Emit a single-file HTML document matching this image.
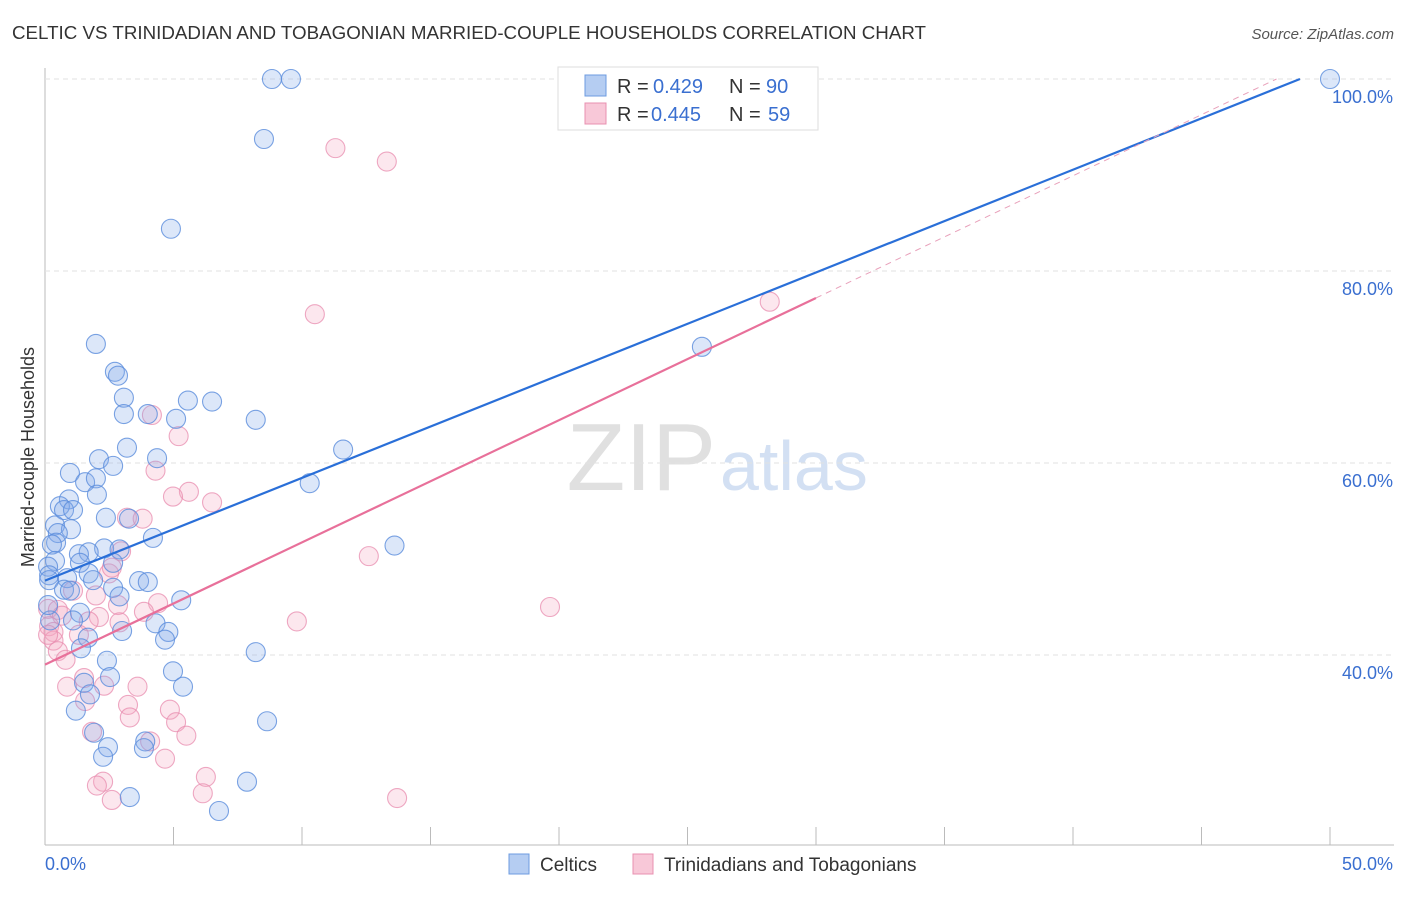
<!DOCTYPE html>
<html><head><meta charset="utf-8"><style>
body{margin:0;background:#fff;font-family:"Liberation Sans",sans-serif;}
svg text{font-family:"Liberation Sans",sans-serif;}
</style></head><body>
<svg id="c" width="1406" height="892">
<text x="12" y="39" font-size="18" fill="#333" textLength="914" lengthAdjust="spacingAndGlyphs">CELTIC VS TRINIDADIAN AND TOBAGONIAN MARRIED-COUPLE HOUSEHOLDS CORRELATION CHART</text>
<text x="1394" y="39" font-size="15" fill="#555" text-anchor="end" font-style="italic">Source: ZipAtlas.com</text>
<text x="34" y="457" font-size="18" fill="#333" text-anchor="middle" transform="rotate(-90 34 457)">Married-couple Households</text>
<text x="716" y="490" font-size="96" fill="#e0e0e0" text-anchor="end" font-family="Liberation Serif">ZIP</text>
<text x="720" y="490" font-size="70" fill="#d3e0f3">atlas</text>
<g id="grid"></g><g id="pts"></g><g id="lines"></g>
<g>
<rect x="558" y="67" width="260" height="63" fill="#fff" stroke="#ddd"/>
<rect x="585" y="75" width="21" height="21" fill="#b5cdf2" stroke="#6d9be0"/>
<text x="617" y="93" font-size="20" fill="#333">R =</text>
<text x="653" y="93" font-size="20" fill="#3a6fd0">0.429</text>
<text x="729" y="93" font-size="20" fill="#333">N =</text>
<text x="766" y="93" font-size="20" fill="#3a6fd0">90</text>
<rect x="585" y="103" width="21" height="21" fill="#f8c8d8" stroke="#e890b0"/>
<text x="617" y="121" font-size="20" fill="#333">R =</text>
<text x="651" y="121" font-size="20" fill="#3a6fd0">0.445</text>
<text x="729" y="121" font-size="20" fill="#333">N =</text>
<text x="768" y="121" font-size="20" fill="#3a6fd0">59</text>
</g>
<g>
<rect x="509" y="854" width="20" height="20" fill="#b5cdf2" stroke="#6d9be0"/>
<text x="540" y="871" font-size="19" fill="#333">Celtics</text>
<rect x="633" y="854" width="20" height="20" fill="#f8c8d8" stroke="#e890b0"/>
<text x="664" y="871" font-size="19" fill="#333">Trinidadians and Tobagonians</text>
</g>
</svg>
<script>
const xTicks=[0,5,10,15,20,25,30,35,40,45,50];
const yTicks=[40,60,80,100];
const celticsX=[8.83,9.57,50,8.52,4.9,1.98,25.56,2.72,2.84,3.07,5.56,6.5,3.07,4.0,5.1,8.2,3.19,11.6,4.36,2.1,2.65,0.97,1.56,1.98,10.3,2.02,0.93,0.58,0.74,1.09,2.37,3.27,0.39,1.01,0.5,4.2,0.43,0.27,13.6,2.3,2.9,1.7,1.32,0.39,1.36,2.65,0.12,0.16,0.16,1.7,0.86,1.87,3.66,4.0,2.65,0.74,0.97,2.9,5.3,1.36,1.09,4.3,3.0,4.8,1.67,4.67,1.4,8.2,2.41,2.53,4.98,5.37,1.52,1.75,1.2,8.64,1.91,3.9,3.85,2.45,2.26,7.86,3.3,6.77,0.2,0.12];
const celticsY=[100,100,100,93.75,84.4,72.4,72.1,69.5,69.1,66.8,66.5,66.4,65.1,65.1,64.6,64.5,61.6,61.4,60.5,60.4,59.7,58.96,58.0,58.4,57.9,56.7,56.2,55.5,55.1,55.1,54.3,54.2,53.5,53.1,52.7,52.2,51.7,51.5,51.4,51.1,51.0,50.7,50.5,49.8,49.6,49.6,49.2,48.3,47.8,48.5,48.0,47.8,47.7,47.6,47.0,46.8,46.7,46.1,45.7,44.4,43.6,43.3,42.5,42.4,41.8,41.6,40.7,40.3,39.4,37.7,38.3,36.7,37.1,35.9,34.2,33.1,31.9,31.0,30.3,30.4,29.4,26.8,25.2,23.75,43.6,45.2];
const trinX=[11.3,13.3,10.5,28.2,4.16,5.2,4.3,5.6,4.98,6.5,3.19,3.8,2.96,12.6,2.49,1.09,1.98,4.4,2.84,19.65,0.12,0.5,3.85,0.66,2.1,1.7,2.9,9.8,0.16,0.33,1.32,0.33,0.5,0.8,1.52,2.3,3.6,0.86,1.56,3.23,4.86,3.3,5.1,1.83,5.5,4.09,4.67,6.26,2.26,2.02,6.14,2.6,13.7,0.12,2.6];
const trinY=[92.8,91.4,75.5,76.8,65.0,62.8,59.2,57.0,56.5,55.9,54.3,54.2,50.8,50.3,48.5,46.7,46.2,45.4,45.2,45.0,44.8,44.7,44.5,44.1,43.96,43.5,43.4,43.5,43.0,42.4,42.1,41.5,40.4,39.5,37.6,36.8,36.7,36.7,35.2,34.8,34.3,33.5,33.0,32.0,31.6,31.0,29.2,27.3,26.8,26.4,25.6,24.9,25.1,42.1,49.1];
const blueFit=[47.75,1.07];
const pinkFit=[39.0,1.273];
const X=v=>45+v*1285/50;
const Y=v=>1039-v*9.6;
const NS='http://www.w3.org/2000/svg';
function mk(parent,tag,attrs){const e=document.createElementNS(NS,tag);for(const k in attrs)e.setAttribute(k,attrs[k]);document.getElementById(parent).appendChild(e);return e;}
const ax=mk('grid','line',{x1:45,y1:68,x2:45,y2:845,stroke:'#bbb'});


const bx=mk('grid','line',{x1:45,y1:845,x2:1394,y2:845,stroke:'#bbb'});


yTicks.forEach(t=>{
 const g=mk('grid','line',{x1:45,x2:1394,y1:Y(t),y2:Y(t),stroke:'#e2e2e2','stroke-dasharray':'5,4'});
 
 
 const l=mk('grid','text',{x:1393,y:Y(t)+24,'text-anchor':'end','font-size':18,fill:'#3a6fd0'});
 l.textContent=t.toFixed(1)+'%';
 
 
});
xTicks.forEach(t=>{
 const k=mk('grid','line',{x1:X(t),x2:X(t),y1:827,y2:845,stroke:'#bbb'});
 
 
});
const l0=mk('grid','text',{x:45,y:870,'font-size':18,fill:'#3a6fd0'});l0.textContent=xTicks[0].toFixed(1)+'%';


const l1=mk('grid','text',{x:1393,y:870,'font-size':18,fill:'#3a6fd0','text-anchor':'end'});l1.textContent=xTicks[xTicks.length-1].toFixed(1)+'%';


trinX.forEach((v,i)=>{
 const c=mk('pts','circle',{cx:X(v),cy:Y(trinY[i]),r:9.5,fill:'rgba(244,170,195,0.28)',stroke:'rgba(232,140,175,0.75)','stroke-width':1.1});
 
 
});
celticsX.forEach((v,i)=>{
 const c=mk('pts','circle',{cx:X(v),cy:Y(celticsY[i]),r:9.5,fill:'rgba(130,170,235,0.28)',stroke:'rgba(90,140,220,0.8)','stroke-width':1.1});
 
 
});
const bxEnd=(100-blueFit[0])/blueFit[1];
const bl=mk('lines','line',{x1:X(0),y1:Y(blueFit[0]),x2:X(bxEnd),y2:Y(100),stroke:'#2a6fd8','stroke-width':2.2});


const pl=mk('lines','line',{x1:X(0),y1:Y(pinkFit[0]),x2:X(30),y2:Y(pinkFit[0]+pinkFit[1]*30),stroke:'#e8709a','stroke-width':2.2});


const pxEnd=(100-pinkFit[0])/pinkFit[1];
const pd=mk('lines','line',{x1:X(30),y1:Y(pinkFit[0]+pinkFit[1]*30),x2:X(pxEnd),y2:Y(100),stroke:'#e8a0ba','stroke-width':1,'stroke-dasharray':'6,5'});


</script>
</body></html>
